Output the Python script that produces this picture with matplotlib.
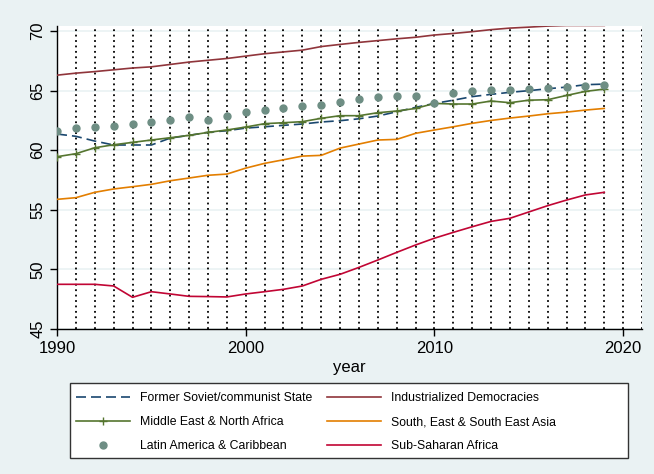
import matplotlib.pyplot as plt
from matplotlib.patches import Rectangle

plt.rcParams['font.family'] = ['Liberation Sans', 'DejaVu Sans']

years = list(range(1990, 2020))

former_soviet = [61.36, 61.17, 60.77, 60.44, 60.44, 60.44, 61.02, 61.25, 61.5, 61.64,
                 61.86, 61.97, 62.09, 62.2, 62.37, 62.48, 62.64, 62.87, 63.23, 63.6,
                 63.93, 64.2, 64.5, 64.69, 64.86, 65.0, 65.16, 65.3, 65.5, 65.55]
industrialized = [66.3, 66.47, 66.6, 66.75, 66.9, 67.0, 67.2, 67.4, 67.55, 67.7,
                  67.9, 68.1, 68.25, 68.4, 68.7, 68.88, 69.05, 69.2, 69.35, 69.48,
                  69.67, 69.8, 69.95, 70.12, 70.25, 70.33, 70.42, 70.47, 70.47, 70.47]
middle_east = [59.46, 59.71, 60.21, 60.46, 60.66, 60.86, 61.05, 61.25, 61.5, 61.7,
               61.95, 62.23, 62.31, 62.4, 62.68, 62.9, 62.9, 63.15, 63.29, 63.51,
               63.93, 63.88, 63.88, 64.13, 63.99, 64.2, 64.24, 64.6, 64.94, 65.13]
south_asia = [55.88, 56.02, 56.47, 56.75, 56.94, 57.14, 57.44, 57.67, 57.9, 58.0,
              58.5, 58.9, 59.2, 59.51, 59.57, 60.18, 60.52, 60.86, 60.91, 61.42,
              61.7, 61.97, 62.26, 62.5, 62.7, 62.87, 63.06, 63.2, 63.37, 63.51]
latin_america = [61.64, 61.9, 61.97, 62.0, 62.17, 62.34, 62.5, 62.76, 62.53, 62.87,
                 63.2, 63.37, 63.57, 63.68, 63.79, 64.07, 64.3, 64.46, 64.55, 64.57,
                 63.93, 64.83, 64.97, 65.03, 65.08, 65.13, 65.22, 65.28, 65.41, 65.47]
sub_saharan = [48.75, 48.75, 48.75, 48.61, 47.66, 48.13, 47.94, 47.74, 47.72, 47.69,
               47.94, 48.13, 48.33, 48.61, 49.17, 49.59, 50.17, 50.79, 51.43, 52.05,
               52.62, 53.11, 53.58, 54.03, 54.29, 54.82, 55.35, 55.82, 56.25, 56.47]

bg = '#eaf2f3'
fig = plt.figure(figsize=(6.54, 4.74), dpi=100, facecolor=bg)
ax = fig.add_axes([0.0872, 0.3059, 0.8945, 0.6391])
ax.set_facecolor('white')

# stata-ish horizontal grid and yearly dotted lines
for yv in range(45, 71, 5):
    ax.axhline(yv, color=bg, lw=1.2, zorder=0)
for xv in range(1990, 2022):
    ax.axvline(xv, color='black', lw=1.3, ls=(0, (1, 2)), zorder=1)

l1, = ax.plot(years, former_soviet, color='#1a476f', lw=1.2, ls=(0, (6, 3)), zorder=3)
l2, = ax.plot(years, industrialized, color='#90353b', lw=1.2, zorder=3)
l3, = ax.plot(years, middle_east, color='#55752f', lw=1.2, marker='+', ms=6, mew=1, zorder=3)
l4, = ax.plot(years, south_asia, color='#e37e00', lw=1.2, zorder=3)
l5, = ax.plot(years, latin_america, color='#6e8e84', ls='none', marker='o', ms=5, zorder=4)
l6, = ax.plot(years, sub_saharan, color='#c10534', lw=1.2, zorder=3)

ax.set_xlim(1990, 2021)
ax.set_ylim(45, 70.42)
ax.set_xticks([1990, 2000, 2010, 2020])
ax.set_yticks([45, 50, 55, 60, 65, 70])
ax.tick_params(axis='both', labelsize=12, length=5, width=1)
plt.setp(ax.get_yticklabels(), rotation=90, va='center')
ax.set_xlabel('year', fontsize=12, labelpad=3)

for s in ['top', 'right']:
    ax.spines[s].set_visible(False)
ax.spines['left'].set_linewidth(1)
ax.spines['bottom'].set_linewidth(1)

# legend box is wider than its content, so draw the frame separately
fig.patches.append(Rectangle((70 / 654, 1 - 458 / 474), 558 / 654, 75 / 474,
                             transform=fig.transFigure, facecolor='white',
                             edgecolor='#333333', lw=1, zorder=0))

handles = [l1, l3, l5, l2, l4, l6]
labels = ['Former Soviet/communist State', 'Middle East & North Africa',
          'Latin America & Caribbean', 'Industrialized Democracies',
          'South, East & South East Asia', 'Sub-Saharan Africa']
leg = fig.legend(handles, labels, ncol=2, loc='upper left',
                 bbox_to_anchor=(76 / 654, 1 - 392 / 474),
                 fontsize=8.8, frameon=False, handlelength=4.4, handletextpad=0.8,
                 columnspacing=1.25, labelspacing=1.0, borderpad=0, borderaxespad=0)

fig.savefig('out.png', dpi=100, facecolor=bg)
